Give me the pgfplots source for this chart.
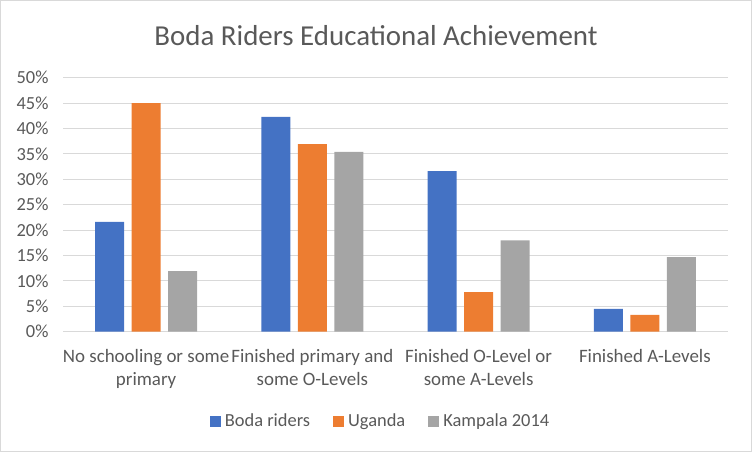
\documentclass[border=0pt]{standalone}
\usepackage{pgfplots}
\pgfplotsset{compat=1.18}
\usepackage{fontspec}
\setmainfont{Carlito}
\definecolor{cblue}{HTML}{4472C4}
\definecolor{corange}{HTML}{ED7D31}
\definecolor{cgray}{HTML}{A5A5A5}
\definecolor{cgrid}{HTML}{D9D9D9}
\definecolor{ctext}{HTML}{595959}
\begin{document}
\begin{tikzpicture}
\useasboundingbox (0bp,0bp) rectangle (752bp,452bp);
\draw[cgrid, line width=1bp] (0.5bp,0.5bp) rectangle (751.5bp,451.5bp);
\node[text=ctext, font=\fontsize{29}{32}\selectfont] at (376bp,416bp) {Boda Riders Educational Achievement};
\begin{axis}[
  at={(63bp,120.3bp)}, anchor=origin,
  width=665bp, height=254bp, scale only axis,
  ybar, bar width=29bp,
  xmin=0, xmax=4, ymin=0, ymax=0.5,
  xtick={0.5,1.5,2.5,3.5},
  xticklabels={No schooling or some\\primary, Finished primary and\\some O-Levels, Finished O-Level or\\some A-Levels, Finished A-Levels},
  xticklabel style={align=center, text=ctext, font=\fontsize{19}{23}\selectfont, yshift=-14bp},
  ytick={0,0.05,...,0.5},
  yticklabel={\pgfmathparse{round(\tick*100)}\pgfmathprintnumber[fixed,precision=0]{\pgfmathresult}\%},
  yticklabel style={text=ctext, font=\fontsize{18.5}{22}\selectfont, xshift=-11bp},
  /pgf/number format/assume math mode=true,
  axis line style={draw=none},
  axis x line*=bottom,
  x axis line style={draw=cgrid, line width=1bp},
  major tick length=0pt,
  ymajorgrids, grid style={cgrid, line width=1bp},
  legend style={at={(0.476,-0.352)}, anchor=center, draw=none, fill=none, legend columns=3,
     font=\fontsize{18.5}{22}\selectfont, text=ctext, inner sep=0pt, nodes={inner sep=0pt},
     /tikz/every odd column/.append style={column sep=0bp},
     /tikz/every even column/.append style={column sep=23bp}},
  legend cell align=left,
  legend image code/.code={\fill[#1] (0bp,-5.5bp) rectangle (11bp,5.5bp); \path (15bp,0bp);},
]
\addplot[fill=cblue, draw=none, bar shift=-36.5bp] coordinates {(0.5,0.216) (1.5,0.423) (2.5,0.316) (3.5,0.045)};
\addplot[fill=corange, draw=none, bar shift=0bp] coordinates {(0.5,0.450) (1.5,0.369) (2.5,0.078) (3.5,0.033)};
\addplot[fill=cgray, draw=none, bar shift=36.5bp] coordinates {(0.5,0.119) (1.5,0.354) (2.5,0.180) (3.5,0.147)};
\legend{Boda riders, Uganda, Kampala 2014}
\end{axis}
\end{tikzpicture}
\end{document}
